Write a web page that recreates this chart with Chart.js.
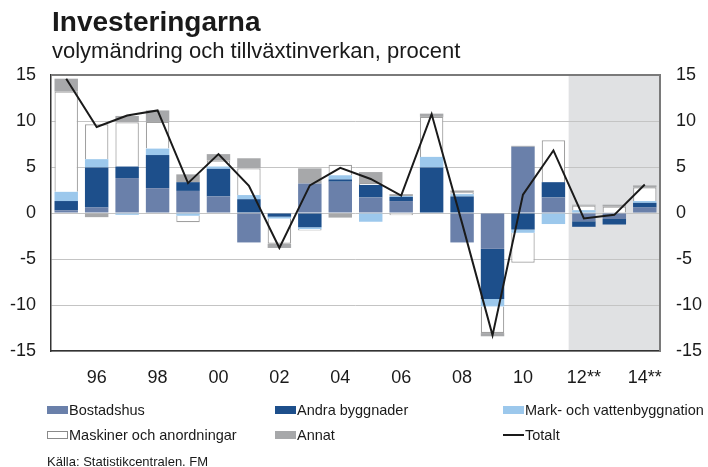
<!DOCTYPE html>
<html>
<head>
<meta charset="utf-8">
<script src="https://cdn.jsdelivr.net/npm/chart.js@4.4.0/dist/chart.umd.min.js"></script>
<style>
  html, body { margin: 0; padding: 0; background: #fff; }
  body { width: 708px; height: 467px; position: relative; overflow: hidden; font-family: "Liberation Sans", Arial, sans-serif; color: #1a1a1a; }
  #c { position: absolute; left: 0; top: 0; }
  .title { position: absolute; left: 52px; top: 5px; font-size: 28px; font-weight: bold; line-height: 34px; white-space: nowrap; }
  .sub { position: absolute; left: 52px; top: 39px; font-size: 22px; line-height: 24px; white-space: nowrap; }
  .leg { position: absolute; font-size: 14.5px; line-height: 18px; white-space: nowrap; display: flex; align-items: center; }
  .mk { display: inline-block; width: 21px; height: 8px; margin-right: 1px; box-sizing: border-box; }
  .ln { display: inline-block; width: 21px; height: 2px; background: #1a1a1a; margin-right: 1px; }
  .src { position: absolute; left: 47px; top: 454px; font-size: 13px; line-height: 16px; white-space: nowrap; }
</style>
</head>
<body>
<canvas id="c" width="708" height="467"></canvas>
<div class="title">Investeringarna</div>
<div class="sub">volymändring och tillväxtinverkan, procent</div>
<div class="leg" style="left:47px; top:401px;"><span class="mk" style="background:#6a80aa"></span>Bostadshus</div>
<div class="leg" style="left:275px; top:401px;"><span class="mk" style="background:#1d4f8b"></span>Andra byggnader</div>
<div class="leg" style="left:503px; top:401px;"><span class="mk" style="background:#9cc8ec"></span>Mark- och vattenbyggnation</div>
<div class="leg" style="left:47px; top:426px;"><span class="mk" style="background:#fff; border:1px solid #8a8a8a"></span>Maskiner och anordningar</div>
<div class="leg" style="left:275px; top:426px;"><span class="mk" style="background:#a7a8aa"></span>Annat</div>
<div class="leg" style="left:503px; top:426px;"><span class="ln"></span>Totalt</div>
<div class="src">Källa: Statistikcentralen. FM</div>
<script>
const categories = ['1995','1996','1997','1998','1999','2000','2001','2002','2003','2004','2005','2006','2007','2008','2009','2010','2011','2012','2013','2014'];
const tickLabels = ['', '96', '', '98', '', '00', '', '02', '', '04', '', '06', '', '08', '', '10', '', '12**', '', '14**'];
const bostadshus = [0.3, 0.6, 3.8, 2.7, 2.4, 1.8, -3.2, 0.0, 3.2, 3.4, 1.7, 1.3, 0.0, -3.2, -3.9, 7.2, 1.7, -0.9, -0.65, 0.6];
const andraByggnader = [1.0, 4.35, 1.25, 3.6, 0.95, 3.0, 1.5, -0.4, -1.55, 0.25, 1.35, 0.45, 4.95, 1.8, -5.45, -1.8, 1.65, -0.6, -0.6, 0.5];
const markVatten = [1.0, 0.9, -0.2, 0.7, -0.3, 0.25, 0.45, -0.2, -0.2, 0.45, -0.95, 0.1, 1.15, 0.25, -0.8, -0.35, -1.2, 0.3, 0.0, 0.2];
const maskiner = [10.9, 3.8, 4.8, 2.9, -0.7, 0.65, 2.9, -2.75, -0.15, 1.15, 0.2, -0.25, 4.35, 0.2, -2.9, -3.25, 4.55, 0.5, 0.7, 1.5];
const annat = [1.4, -0.45, 0.7, 1.25, 0.85, 0.7, 1.1, -0.45, 1.65, -0.5, 1.2, 0.2, 0.35, 0.2, -0.35, 0.1, 0.0, 0.1, 0.2, 0.2];
const totalt = [14.6, 9.35, 10.6, 11.15, 3.25, 6.4, 2.95, -3.8, 3.0, 4.9, 3.7, 1.9, 10.75, -1.1, -13.3, 2.0, 6.8, -0.6, -0.2, 3.1];
const forecastStart = 17;

const FONT = "'Liberation Sans', Arial, sans-serif";

const shadePlugin = {
  id: 'shade',
  beforeDraw(chart) {
    const { ctx, chartArea, scales } = chart;
    const x = scales.x;
    const half = (x.getPixelForValue(1) - x.getPixelForValue(0)) / 2;
    const left = x.getPixelForValue(forecastStart) - half;
    ctx.save();
    ctx.fillStyle = '#e0e1e3';
    ctx.fillRect(left, chartArea.top, chartArea.right - left, chartArea.bottom - chartArea.top);
    ctx.restore();
  },
  afterDraw(chart) {
    const { ctx, chartArea } = chart;
    ctx.save();
    ctx.strokeStyle = '#7a7a7a';
    ctx.lineWidth = 2;
    ctx.beginPath();
    ctx.moveTo(chartArea.left, chartArea.top);
    ctx.lineTo(chartArea.right, chartArea.top);
    ctx.stroke();
    ctx.restore();
  }
};

const barCommon = { stack: 'bars', order: 2, borderWidth: 0, barPercentage: 0.77, categoryPercentage: 1.0 };

new Chart(document.getElementById('c'), {
  type: 'bar',
  data: {
    labels: categories,
    datasets: [
      Object.assign({ label: 'Bostadshus', data: bostadshus, backgroundColor: '#6a80aa' }, barCommon),
      Object.assign({ label: 'Andra byggnader', data: andraByggnader, backgroundColor: '#1d4f8b' }, barCommon),
      Object.assign({ label: 'Mark- och vattenbyggnation', data: markVatten, backgroundColor: '#9cc8ec' }, barCommon),
      Object.assign({}, barCommon, { label: 'Maskiner och anordningar', data: maskiner, backgroundColor: '#ffffff', borderColor: '#a0a0a0', borderWidth: 1.2 }),
      Object.assign({ label: 'Annat', data: annat, backgroundColor: '#a7a8aa' }, barCommon),
      { type: 'line', label: 'Totalt', data: totalt, stack: 'line', order: 0, borderColor: '#1a1a1a', borderWidth: 2, pointRadius: 0, tension: 0, fill: false }
    ]
  },
  options: {
    responsive: false,
    devicePixelRatio: 1,
    animation: false,
    layout: { padding: { left: 0, right: 0, top: 75, bottom: 76 } },
    plugins: { legend: { display: false }, tooltip: { enabled: false } },
    scales: {
      x: {
        stacked: true,
        offset: true,
        grid: { display: false, drawTicks: false },
        border: { display: true, color: '#333', width: 1.5 },
        ticks: {
          autoSkip: false, maxRotation: 0, minRotation: 0, padding: 16,
          color: '#1a1a1a', font: { family: FONT, size: 18 },
          callback: (v, i) => tickLabels[i]
        },
        afterFit: s => { s.height = 40; }
      },
      y: {
        stacked: true,
        position: 'left',
        min: -15, max: 15,
        grid: { color: '#c4c4c4', lineWidth: 1, drawTicks: false },
        border: { display: true, color: '#333', width: 1.5 },
        ticks: { stepSize: 5, padding: 15, color: '#1a1a1a', font: { family: FONT, size: 18 } },
        afterFit: s => { s.width = 51; }
      },
      y2: {
        position: 'right',
        min: -15, max: 15,
        grid: { display: false, drawTicks: false },
        border: { display: true, color: '#7a7a7a', width: 2 },
        ticks: { stepSize: 5, padding: 16, color: '#1a1a1a', font: { family: FONT, size: 18 } },
        afterFit: s => { s.width = 48; }
      }
    }
  },
  plugins: [shadePlugin]
});
</script>
</body>
</html>
